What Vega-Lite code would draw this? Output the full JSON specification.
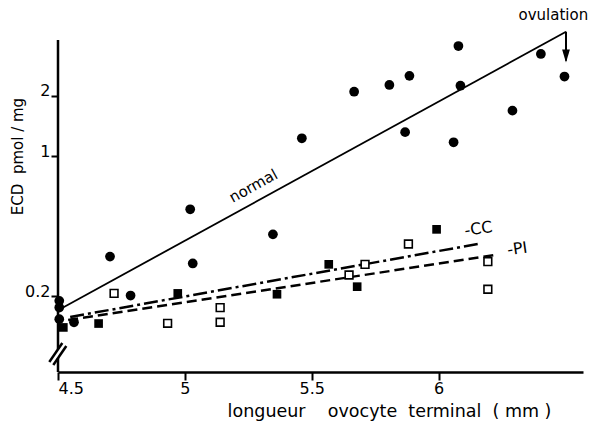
{
  "$schema": "https://vega.github.io/schema/vega-lite/v6.json",
  "width": 525,
  "height": 332,
  "autosize": {"type": "none"},
  "padding": {"left": 58, "top": 40, "right": 7, "bottom": 56},
  "config": {"view": {"stroke": null}, "font": "DejaVu Sans"},
  "datasets": {
    "points": [
      {"series": "normal", "x": 4.505, "y": 0.190},
      {"series": "normal", "x": 4.505, "y": 0.176},
      {"series": "normal", "x": 4.505, "y": 0.154},
      {"series": "normal", "x": 4.563, "y": 0.1485},
      {"series": "normal", "x": 4.705, "y": 0.316},
      {"series": "normal", "x": 4.786, "y": 0.202},
      {"series": "normal", "x": 5.021, "y": 0.544},
      {"series": "normal", "x": 5.031, "y": 0.292},
      {"series": "normal", "x": 5.347, "y": 0.408},
      {"series": "normal", "x": 5.461, "y": 1.23},
      {"series": "normal", "x": 5.667, "y": 2.10},
      {"series": "normal", "x": 5.806, "y": 2.27},
      {"series": "normal", "x": 5.885, "y": 2.52},
      {"series": "normal", "x": 5.868, "y": 1.32},
      {"series": "normal", "x": 6.059, "y": 1.175},
      {"series": "normal", "x": 6.086, "y": 2.25},
      {"series": "normal", "x": 6.078, "y": 3.55},
      {"series": "normal", "x": 6.291, "y": 1.69},
      {"series": "normal", "x": 6.403, "y": 3.24},
      {"series": "normal", "x": 6.496, "y": 2.50},
      {"series": "CC", "x": 4.521, "y": 0.140},
      {"series": "CC", "x": 4.660, "y": 0.1464},
      {"series": "CC", "x": 4.972, "y": 0.207},
      {"series": "CC", "x": 5.363, "y": 0.205},
      {"series": "CC", "x": 5.567, "y": 0.289},
      {"series": "CC", "x": 5.679, "y": 0.2236},
      {"series": "CC", "x": 5.992, "y": 0.432},
      {"series": "PI", "x": 4.721, "y": 0.207},
      {"series": "PI", "x": 4.932, "y": 0.1468},
      {"series": "PI", "x": 5.139, "y": 0.1757},
      {"series": "PI", "x": 5.139, "y": 0.1485},
      {"series": "PI", "x": 5.647, "y": 0.2557},
      {"series": "PI", "x": 5.710, "y": 0.289},
      {"series": "PI", "x": 5.881, "y": 0.365},
      {"series": "PI", "x": 6.194, "y": 0.298},
      {"series": "PI", "x": 6.194, "y": 0.217}
    ],
    "fits": [
      {"series": "normal", "x": 4.502, "y": 0.171},
      {"series": "normal", "x": 6.502, "y": 4.186},
      {"series": "CC", "x": 4.548, "y": 0.1578},
      {"series": "CC", "x": 6.165, "y": 0.3672},
      {"series": "PI", "x": 4.540, "y": 0.1525},
      {"series": "PI", "x": 6.224, "y": 0.3218}
    ],
    "axisParts": [
      {"x": 4.5, "x2": 4.5, "y": 3.805, "y2": 0.1093},
      {"x": 4.5, "x2": 4.5, "y": 0.0985, "y2": 0.08389},
      {"x": 4.4657, "x2": 4.517, "y": 0.0941, "y2": 0.1171},
      {"x": 4.4815, "x2": 4.5327, "y": 0.0909, "y2": 0.1131}
    ],
    "labels": [
      {"name": "normal", "text": "normal", "x": 5.270, "y": 0.711},
      {"name": "CC", "text": "-CC", "x": 6.157, "y": 0.4337},
      {"name": "PI", "text": "-PI", "x": 6.310, "y": 0.3447},
      {"name": "ovulation", "text": "ovulation", "x": 6.452, "y": 5.07}
    ],
    "arrow": [
      {"x": 6.502, "y": 4.186, "y2": 3.0}
    ],
    "arrowHead": [
      {"x": 6.502, "y": 3.167}
    ]
  },
  "encoding": {
    "x": {
      "field": "x",
      "type": "quantitative",
      "scale": {"domain": [4.5, 6.569], "nice": false, "zero": false},
      "axis": {
        "values": [4.5, 5, 5.5, 6],
        "format": "~g",
        "grid": false,
        "domainColor": "black",
        "domainWidth": 2.5,
        "tickColor": "black",
        "tickWidth": 2,
        "tickSize": 8,
        "labelFontSize": 16,
        "labelColor": "black",
        "labelPadding": 0,
        "title": "longueur\u00a0\u00a0\u00a0\u00a0ovocyte\u00a0\u00a0terminal\u00a0\u00a0(\u00a0mm\u00a0)",
        "titleFontSize": 17.5,
        "titleFontWeight": "normal",
        "titleColor": "black",
        "titleX": 331,
        "titleY": 44,
        "titleAlign": "center",
        "titleBaseline": "alphabetic"
      }
    },
    "y": {
      "field": "y",
      "type": "quantitative",
      "scale": {"type": "log", "domain": [0.08389, 3.805], "nice": false},
      "axis": {
        "values": [0.2, 1, 2],
        "format": "~g",
        "grid": false,
        "domain": false,
        "tickColor": "black",
        "tickWidth": 2,
        "tickSize": 7,
        "labelFontSize": 16,
        "labelColor": "black",
        "labelPadding": 1,
        "labelBaseline": "alphabetic",
        "title": "ECD\u00a0\u00a0pmol\u00a0/\u00a0mg",
        "titleFontSize": 15,
        "titleFontWeight": "normal",
        "titleColor": "black",
        "titleAngle": -90,
        "titleX": -41,
        "titleY": 116,
        "titleAlign": "center",
        "titleBaseline": "middle"
      }
    }
  },
  "layer": [
    {
      "data": {"name": "axisParts"},
      "mark": {"type": "rule", "color": "black", "strokeWidth": 2.5},
      "encoding": {
        "x2": {"field": "x2"},
        "y2": {"field": "y2"}
      }
    },
    {
      "data": {"name": "fits"},
      "transform": [{"filter": "datum.series === 'normal'"}],
      "mark": {"type": "line", "color": "black", "strokeWidth": 1.8},
      "encoding": {}
    },
    {
      "data": {"name": "fits"},
      "transform": [{"filter": "datum.series === 'CC'"}],
      "mark": {"type": "line", "color": "black", "strokeWidth": 2.5, "strokeDash": [14, 4, 3, 4]},
      "encoding": {}
    },
    {
      "data": {"name": "fits"},
      "transform": [{"filter": "datum.series === 'PI'"}],
      "mark": {"type": "line", "color": "black", "strokeWidth": 2.5, "strokeDash": [10, 5]},
      "encoding": {}
    },
    {
      "data": {"name": "points"},
      "transform": [{"filter": "datum.series === 'normal'"}],
      "mark": {"type": "point", "shape": "circle", "filled": true, "color": "black", "opacity": 1, "size": 95}
    },
    {
      "data": {"name": "points"},
      "transform": [{"filter": "datum.series === 'CC'"}],
      "mark": {"type": "point", "shape": "square", "filled": true, "color": "black", "opacity": 1, "size": 75}
    },
    {
      "data": {"name": "points"},
      "transform": [{"filter": "datum.series === 'PI'"}],
      "mark": {"type": "point", "shape": "square", "fill": "white", "stroke": "black", "strokeWidth": 1.6, "opacity": 1, "fillOpacity": 1, "size": 60}
    },
    {
      "data": {"name": "arrow"},
      "mark": {"type": "rule", "color": "black", "strokeWidth": 2},
      "encoding": {"y2": {"field": "y2"}}
    },
    {
      "data": {"name": "arrowHead"},
      "mark": {"type": "point", "shape": "M-0.6,-1L0.6,-1L0,1Z", "filled": true, "color": "black", "opacity": 1, "size": 169}
    },
    {
      "data": {"name": "labels"},
      "transform": [{"filter": "datum.name === 'normal'"}],
      "mark": {"type": "text", "fontSize": 15, "angle": -29, "align": "center", "baseline": "middle", "color": "black"},
      "encoding": {"text": {"field": "text"}}
    },
    {
      "data": {"name": "labels"},
      "transform": [{"filter": "datum.name === 'CC' || datum.name === 'PI'"}],
      "mark": {"type": "text", "fontSize": 16, "angle": -8, "align": "center", "baseline": "middle", "color": "black"},
      "encoding": {"text": {"field": "text"}}
    },
    {
      "data": {"name": "labels"},
      "transform": [{"filter": "datum.name === 'ovulation'"}],
      "mark": {"type": "text", "fontSize": 15, "align": "center", "baseline": "middle", "color": "black"},
      "encoding": {"text": {"field": "text"}}
    }
  ]
}
